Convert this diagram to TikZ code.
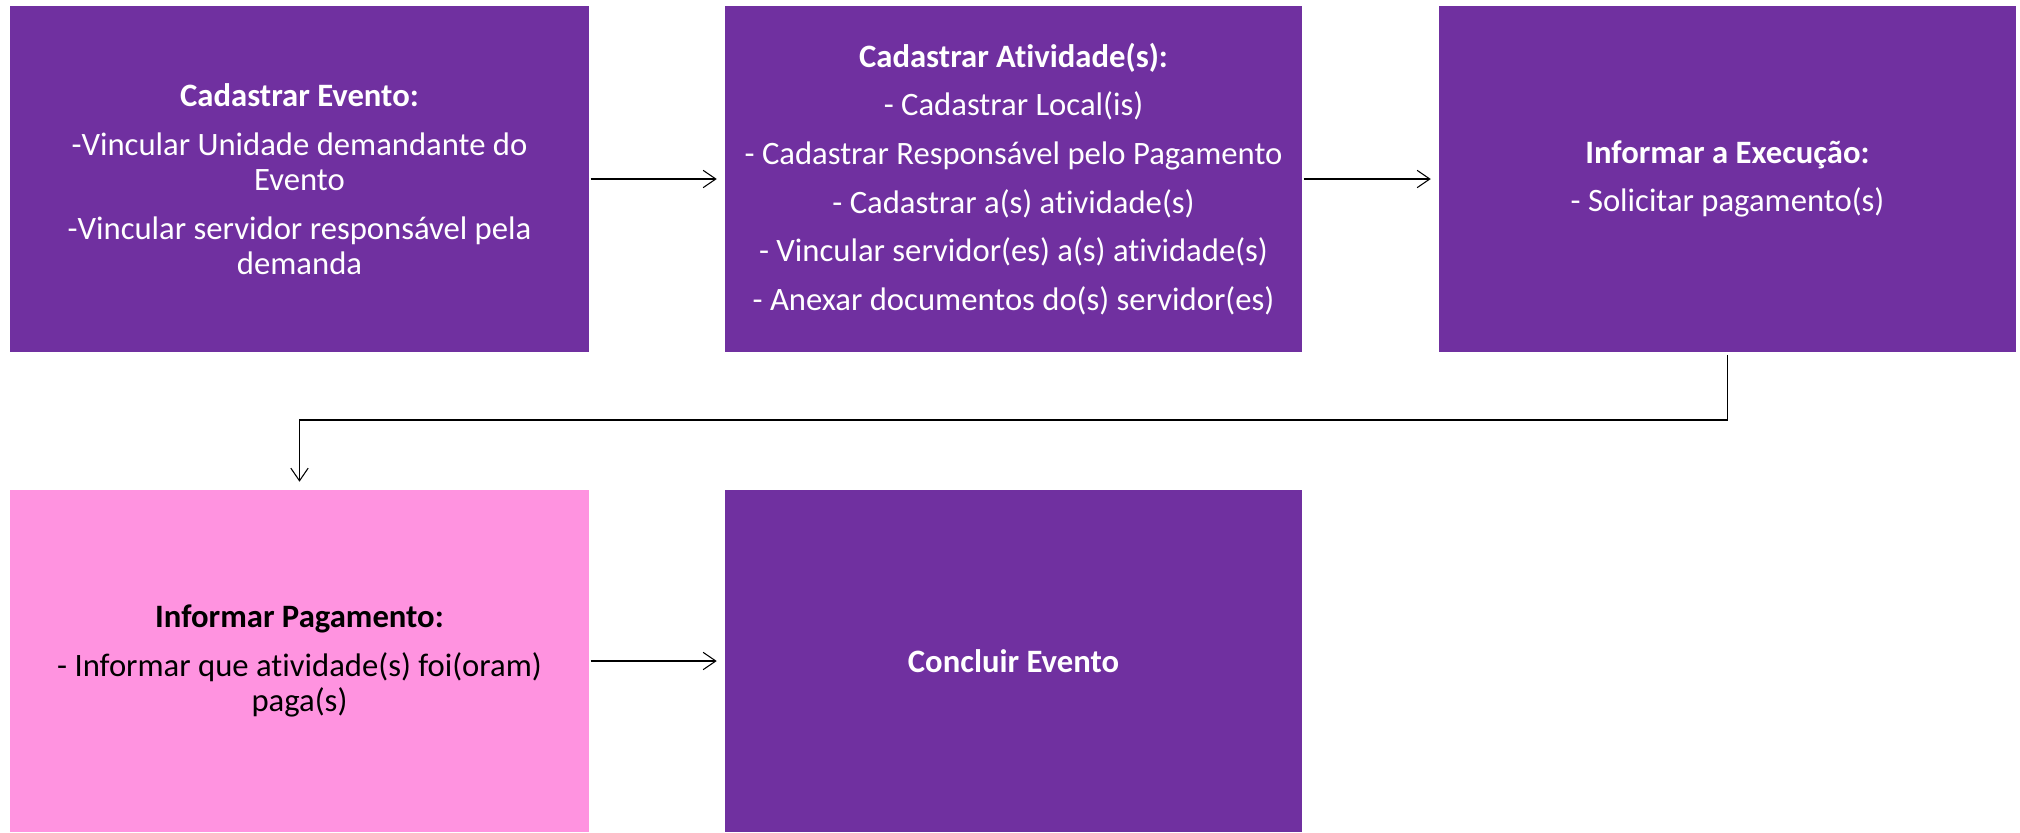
\documentclass[tikz,border=0pt]{standalone}
\usepackage{fontspec}
\setmainfont{Carlito}[Ligatures=NoCommon]
\usetikzlibrary{arrows.meta}
\definecolor{boxpurple}{HTML}{7030A0}
\definecolor{boxpink}{HTML}{FF93E0}
\begin{document}
\begin{tikzpicture}[x=0.75pt,y=-0.75pt,
  stepbox/.style={rectangle, fill=boxpurple, text=white, align=center,
    minimum width=579*0.75pt, minimum height=346*0.75pt, inner sep=0pt,
    font=\fontsize{24.5}{26.25}\selectfont},
  pinkbox/.style={stepbox, fill=boxpink, text=black, minimum height=342*0.75pt},
  conn/.style={draw=black, line width=0.8pt,
    -{Straight Barb[length=9.5pt,width=13pt,line width=0.8pt]}}
]
\useasboundingbox (0,0) rectangle (2020,832);

\node[stepbox] (b1) at (299.5,179) {\textbf{Cadastrar Evento:}\\[10.25pt]
  -Vincular Unidade demandante do\\Evento\\[10.25pt]
  -Vincular servidor responsável pela\\demanda};
\node[stepbox, minimum width=577*0.75pt] (b2) at (1013.5,179) {\textbf{Cadastrar Atividade(s):}\\[10.25pt]
  - Cadastrar Local(is)\\[10.25pt]
  - Cadastrar Responsável pelo Pagamento\\[10.25pt]
  - Cadastrar a(s) atividade(s)\\[10.25pt]
  - Vincular servidor(es) a(s) atividade(s)\\[10.25pt]
  - Anexar documentos do(s) servidor(es)};
\node[stepbox, minimum width=577*0.75pt] (b3) at (1727.5,179) {\textbf{Informar a Execução:}\\[10.25pt]
  - Solicitar pagamento(s)};
\node[pinkbox] (b4) at (299.5,661) {\textbf{Informar Pagamento:}\\[10.25pt]
  - Informar que atividade(s) foi(oram)\\paga(s)};
\node[stepbox, minimum width=577*0.75pt, minimum height=342*0.75pt] (b5) at (1013.5,661) {\textbf{Concluir Evento}};

\coordinate (bend) at (299.5,420);

\draw[conn, shorten <=1pt, shorten >=6pt] (b1.east) -- (b2.west);
\draw[conn, shorten <=1pt, shorten >=6pt] (b2.east) -- (b3.west);
\draw[conn, shorten <=1pt, shorten >=6pt] (b4.east) -- (b5.west);
\draw[conn, shorten <=2pt, shorten >=6pt] (b3.south) |- (bend) -- (b4.north);
\end{tikzpicture}
\end{document}
